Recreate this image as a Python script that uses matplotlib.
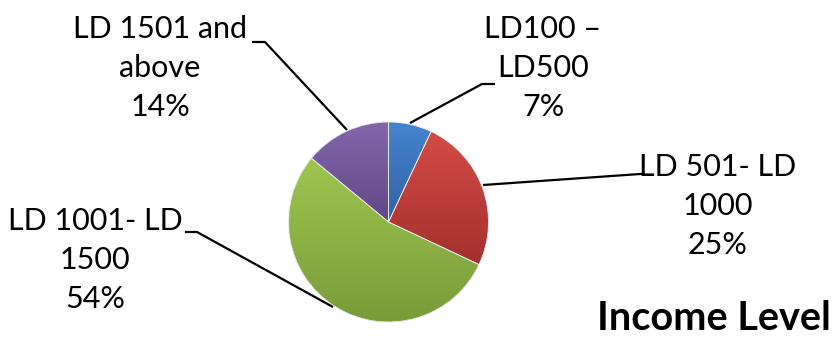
import numpy as np
import matplotlib
matplotlib.use('Agg')
import matplotlib.pyplot as plt
from matplotlib.colors import LinearSegmentedColormap

# income level shares
labels = ['LD100 –\nLD500', 'LD 501- LD\n1000', 'LD 1001- LD\n1500', 'LD 1501 and\nabove']
shares = [7, 25, 54, 14]
top_colors = ['#4585cd', '#d44b47', '#9ec650', '#8466ad']
bottom_colors = ['#3261a6', '#a3302d', '#799b3a', '#5f4885']

plt.rcParams['font.family'] = ['Lato', 'DejaVu Sans']

W, H = 835, 338
fig = plt.figure(figsize=(W / 100, H / 100), dpi=100)
ax = fig.add_axes([0, 0, 1, 1])

cx, cy, r = 388.5, H - 222, 100
wedges, _ = ax.pie(shares, startangle=90, counterclock=False,
                   center=(cx, cy), radius=r,
                   wedgeprops=dict(linewidth=0.6, edgecolor='#e8e8e8'))
ax.set_xlim(0, W)
ax.set_ylim(0, H)
ax.set_aspect('equal')
ax.set_autoscale_on(False)
ax.axis('off')

# excel-like vertical gradient on each slice
grad = np.linspace(0, 1, 256).reshape(-1, 1)
for w, c0, c1 in zip(wedges, top_colors, bottom_colors):
    ext = w.get_path().get_extents()
    cmap = LinearSegmentedColormap.from_list('g', [c0, c1])
    im = ax.imshow(grad, cmap=cmap, aspect='auto', interpolation='bilinear',
                   extent=(ext.x0, ext.x1, ext.y0, ext.y1), zorder=1)
    im.set_clip_path(w)
    w.set_facecolor('none')
    w.set_zorder(2)

# leader lines (pixel coords from top)
leaders = [
    [(410, 123), (482, 84), (495, 84)],
    [(483, 185), (640, 174), (645, 174)],
    [(333, 307), (197, 232), (185, 232)],
    [(347, 130), (265, 42), (252, 42)],
]
label_pos = [(543, 68), (718, 206), (95, 260), (160, 68)]

for pts, (tx, ty), lab, s in zip(leaders, label_pos, labels, shares):
    xs = [p[0] for p in pts]
    ys = [H - p[1] for p in pts]
    ax.plot(xs, ys, color='black', lw=1.6, solid_capstyle='butt', zorder=3)
    ax.text(tx, H - ty, f'{lab}\n{s}%', ha='center', va='center',
            fontsize=22, linespacing=1.5, color='black')

ax.text(831, H - 319, 'Income Level', ha='right', va='center',
        fontsize=28.5, fontweight='bold', color='black')

fig.savefig('out.png', dpi=100)
